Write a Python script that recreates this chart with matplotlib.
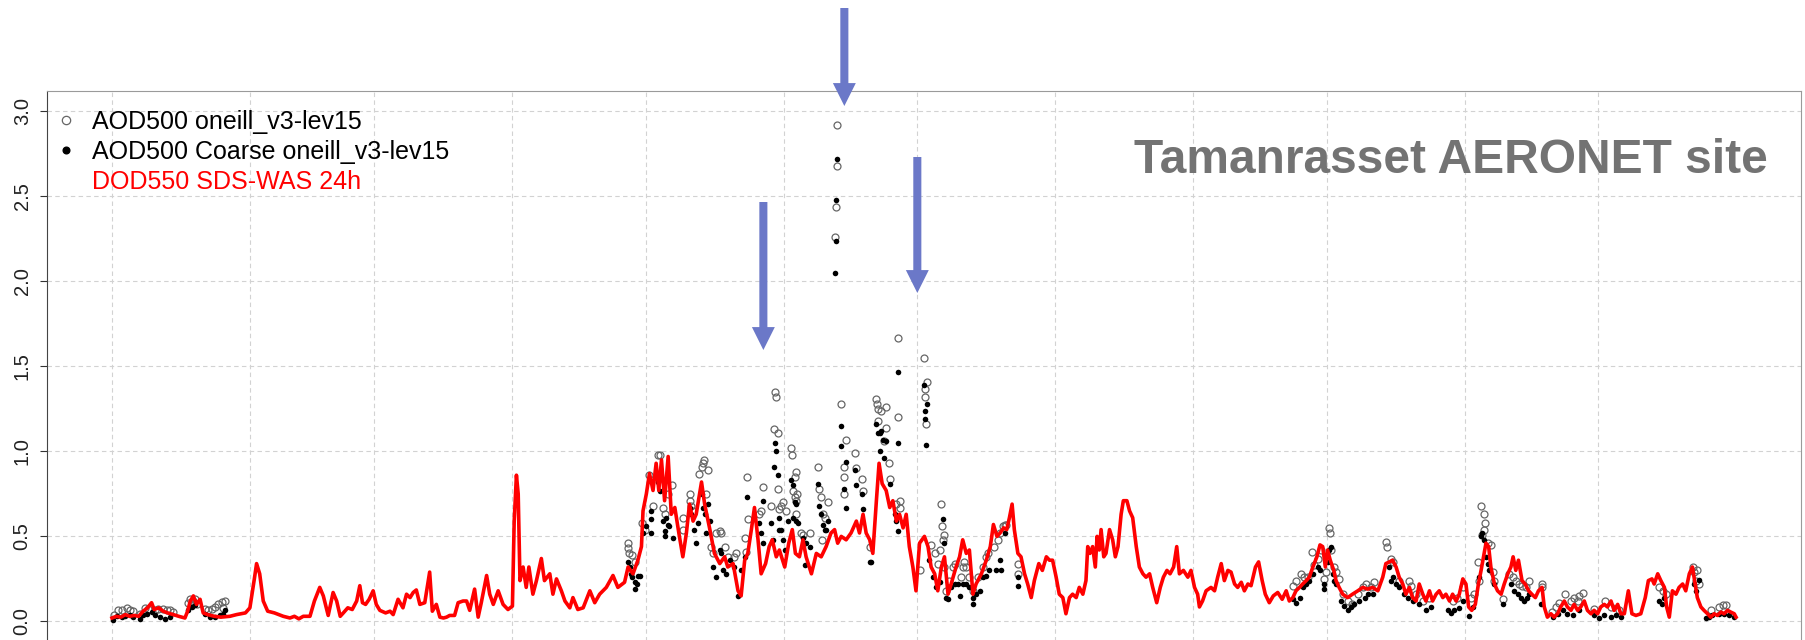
import numpy as np
import matplotlib
matplotlib.use("Agg")
import matplotlib.pyplot as plt
from matplotlib.lines import Line2D

# day of year (0 = 1 Jan) and optical depth
dod = [
    (0, 0.02), (1, 0.03), (2, 0.025), (3, 0.04), (4, 0.03), (5, 0.035), (6, 0.03), (7, 0.06),
    (8, 0.08), (8.9, 0.11), (9.5, 0.07), (10.5, 0.08), (11.5, 0.06), (12.5, 0.05), (13.8, 0.04),
    (15, 0.03), (16.4, 0.02), (17, 0.06), (17.6, 0.12), (18.3, 0.15), (19, 0.10), (19.8, 0.13),
    (20.5, 0.05), (21.5, 0.04), (23, 0.03), (24.5, 0.025), (26.5, 0.03), (28, 0.04), (30, 0.05),
    (31, 0.08), (32, 0.25), (32.5, 0.34), (33.2, 0.28), (34, 0.12), (35, 0.06), (36.5, 0.05),
    (38.5, 0.03), (40, 0.02), (41, 0.03), (42, 0.015), (43, 0.03), (44.5, 0.03), (45.5, 0.12),
    (46.7, 0.20), (47.5, 0.15), (48.6, 0.035), (49.7, 0.17), (50.5, 0.12), (51.3, 0.03), (52, 0.05),
    (53, 0.08), (54, 0.07), (55, 0.12), (55.7, 0.21), (56.3, 0.11), (57, 0.10), (57.8, 0.13),
    (58.7, 0.18), (59.4, 0.10),
    (60.2, 0.065), (61.5, 0.05), (62.5, 0.06), (63.2, 0.04), (64.3, 0.13), (65.4, 0.08), (66.2, 0.16),
    (67.0, 0.14), (67.7, 0.17), (68.4, 0.185), (69.2, 0.10), (70.3, 0.11), (71.4, 0.29), (72.0, 0.06),
    (72.9, 0.10), (73.7, 0.025), (74.5, 0.02), (75.2, 0.025), (75.9, 0.035), (77.0, 0.035), (77.8, 0.11),
    (78.9, 0.12), (79.7, 0.12), (80.4, 0.065), (81.5, 0.19), (82.3, 0.025), (83.0, 0.11), (84.2, 0.27),
    (84.9, 0.16), (85.7, 0.10), (86.8, 0.18), (87.9, 0.10), (89.0, 0.07), (90.0, 0.09), (90.4, 0.59),
    (90.9, 0.86), (91.3, 0.75), (91.7, 0.24), (92.4, 0.32), (93.1, 0.20), (93.7, 0.32), (94.6, 0.16),
    (95.4, 0.24), (96.5, 0.37), (97.2, 0.24), (98.4, 0.28), (99.1, 0.16), (99.9, 0.25), (101.0, 0.18),
    (101.8, 0.12), (102.9, 0.08), (103.6, 0.14), (104.7, 0.07), (105.9, 0.08), (107.4, 0.18),
    (108.5, 0.11), (109.6, 0.16), (111.1, 0.20), (112.6, 0.27), (113.7, 0.20), (115.2, 0.23),
    (116.0, 0.32), (117.1, 0.28), (118.2, 0.36), (119.0, 0.44),
    (119.35, 0.65), (120.1, 0.75), (120.8, 0.87), (121.6, 0.77), (122.3, 0.93), (122.9, 0.77),
    (123.5, 0.95), (124.2, 0.71), (125.0, 0.97), (125.7, 0.63), (126.5, 0.67), (127.4, 0.52),
    (128.3, 0.38), (129.1, 0.52), (129.8, 0.69), (130.6, 0.59), (131.3, 0.63), (132.5, 0.82),
    (133.2, 0.69), (134.3, 0.55), (135.4, 0.40), (136.6, 0.34), (137.7, 0.38), (138.4, 0.32),
    (139.6, 0.34), (140.7, 0.18), (141.4, 0.15), (142.2, 0.36), (142.9, 0.40), (143.7, 0.54),
    (144.4, 0.67), (145.2, 0.48), (145.9, 0.28), (146.9, 0.34), (147.7, 0.44), (148.4, 0.48),
    (149.3, 0.38), (150.0, 0.42), (151.2, 0.32), (152.1, 0.46), (152.9, 0.54), (153.6, 0.40),
    (154.5, 0.38), (155.3, 0.48), (156.0, 0.38), (157.2, 0.28), (158.3, 0.40), (159.4, 0.38),
    (160.5, 0.44), (161.6, 0.52), (162.4, 0.54), (163.1, 0.46), (163.9, 0.50), (165.0, 0.48),
    (166.1, 0.52), (167.3, 0.59), (168.0, 0.52), (168.8, 0.63), (169.5, 0.52), (170.3, 0.48),
    (171.0, 0.40), (171.8, 0.71), (172.4, 0.93), (173.1, 0.81), (174.0, 0.77), (174.8, 0.67),
    (175.5, 0.71), (176.3, 0.59), (177.0, 0.63), (177.8, 0.55), (178.5, 0.63), (179.2, 0.44),
    (180.0, 0.32), (180.7, 0.18),
    (181.5, 0.46), (182.6, 0.50), (183.4, 0.44), (184.1, 0.32), (184.9, 0.28), (185.6, 0.18),
    (186.4, 0.32), (187.1, 0.38), (187.9, 0.16), (188.6, 0.22), (189.7, 0.32), (190.5, 0.38),
    (191.2, 0.48), (192.0, 0.40), (192.7, 0.42), (193.5, 0.16), (194.2, 0.22), (195.4, 0.28),
    (196.5, 0.36), (197.4, 0.44), (198.1, 0.57), (198.9, 0.50), (199.6, 0.52), (200.4, 0.55),
    (201.1, 0.54), (201.7, 0.61), (202.3, 0.69), (202.8, 0.54), (203.6, 0.40), (204.3, 0.38),
    (205.1, 0.28), (205.8, 0.22), (206.6, 0.14), (207.3, 0.24), (208.3, 0.34), (209.1, 0.30),
    (210.0, 0.38), (210.7, 0.36), (211.4, 0.36), (212.2, 0.26), (212.9, 0.16), (213.7, 0.14),
    (214.4, 0.045), (215.2, 0.14), (215.9, 0.16), (216.7, 0.14), (217.4, 0.20), (218.2, 0.16),
    (218.9, 0.24), (219.3, 0.44), (219.8, 0.40), (220.4, 0.44), (221.0, 0.32), (221.4, 0.50),
    (221.9, 0.42), (222.3, 0.54), (222.9, 0.38), (223.4, 0.40), (224.2, 0.54), (224.9, 0.48),
    (225.5, 0.38), (226.1, 0.44), (226.8, 0.63), (227.3, 0.71), (228.1, 0.71), (228.7, 0.65),
    (229.4, 0.61), (230.2, 0.44), (230.9, 0.32), (231.7, 0.28), (232.4, 0.26), (233.2, 0.28),
    (233.9, 0.20), (234.8, 0.11), (235.6, 0.20), (236.3, 0.26), (237.1, 0.30), (237.8, 0.28),
    (238.6, 0.32), (239.3, 0.44), (239.9, 0.28), (240.8, 0.30), (241.8, 0.26), (242.5, 0.30),
    (243.3, 0.20), (244.0, 0.16),
    (244.4, 0.085), (245.1, 0.12), (245.9, 0.18), (247.0, 0.20), (247.8, 0.18), (248.5, 0.26),
    (249.3, 0.34), (250.0, 0.24), (250.8, 0.30), (251.5, 0.29), (252.3, 0.22), (253.0, 0.20),
    (253.8, 0.23), (254.5, 0.18), (255.3, 0.22), (256.0, 0.21), (257.0, 0.32), (257.7, 0.35),
    (258.5, 0.24), (259.2, 0.16), (260.1, 0.11), (261.0, 0.15), (262.0, 0.17), (263.0, 0.13),
    (263.9, 0.18), (264.6, 0.12), (265.4, 0.14), (266.1, 0.18), (266.9, 0.20), (267.6, 0.22),
    (268.4, 0.24), (269.1, 0.26), (269.9, 0.32), (270.8, 0.38), (271.5, 0.45), (272.1, 0.44),
    (272.7, 0.32), (273.2, 0.42), (273.8, 0.36), (274.6, 0.30), (275.1, 0.24), (275.8, 0.20),
    (276.6, 0.16), (277.7, 0.14), (278.8, 0.16), (280.0, 0.18), (281.1, 0.20), (282.2, 0.19),
    (283.3, 0.20), (284.5, 0.18), (285.6, 0.26), (286.3, 0.34), (287.1, 0.35), (287.8, 0.36),
    (288.6, 0.32), (289.3, 0.26), (290.1, 0.22), (290.8, 0.16), (291.6, 0.20), (292.3, 0.14),
    (293.1, 0.12), (293.8, 0.22), (294.6, 0.16), (295.3, 0.12), (296.1, 0.18), (296.8, 0.12),
    (297.6, 0.16), (298.3, 0.18), (299.1, 0.14), (299.8, 0.16), (300.6, 0.12), (301.3, 0.16),
    (302.1, 0.12), (302.8, 0.16), (303.6, 0.25), (304.3, 0.22), (304.9, 0.085), (305.6, 0.065),
    (306.4, 0.10), (307.1, 0.22),
    (307.7, 0.30), (308.8, 0.46), (309.4, 0.44), (309.9, 0.32), (310.7, 0.22), (311.4, 0.18),
    (312.2, 0.16), (312.9, 0.22), (313.7, 0.28), (314.4, 0.32), (314.9, 0.38), (315.5, 0.30),
    (316.1, 0.36), (316.9, 0.24), (317.6, 0.22), (318.4, 0.18), (319.1, 0.16), (319.9, 0.14),
    (320.6, 0.18), (321.4, 0.20), (321.9, 0.085), (322.6, 0.025), (323.4, 0.045), (324.1, 0.025),
    (324.9, 0.045), (325.6, 0.085), (326.4, 0.12), (327.1, 0.085), (327.9, 0.065), (328.6, 0.10),
    (329.4, 0.065), (330.1, 0.085), (330.9, 0.12), (331.6, 0.065), (332.4, 0.045), (333.1, 0.065),
    (333.9, 0.045), (334.6, 0.085), (335.4, 0.10), (336.1, 0.085), (336.9, 0.12), (337.6, 0.065),
    (338.4, 0.10), (339.1, 0.045), (339.9, 0.045), (340.8, 0.18), (341.6, 0.045), (342.5, 0.035),
    (343.6, 0.045), (344.6, 0.14), (345.3, 0.24), (346.1, 0.25), (346.6, 0.22), (347.4, 0.28),
    (348.1, 0.24), (348.9, 0.20), (349.4, 0.085), (350.0, 0.025), (350.7, 0.18), (351.5, 0.16),
    (352.2, 0.20), (353.0, 0.22), (353.7, 0.18), (354.5, 0.28), (355.2, 0.32), (355.8, 0.22),
    (356.3, 0.14), (357.1, 0.085), (357.8, 0.065), (358.6, 0.045), (359.3, 0.025), (360.1, 0.045),
    (360.8, 0.035), (361.6, 0.055), (362.3, 0.045), (363.1, 0.065), (363.8, 0.055), (364.6, 0.045),
    (365.0, 0.025),
]

aod_total = [
    (0.45, 0.04), (1.42, 0.07), (2.17, 0.07), (3.3, 0.08), (4.04, 0.07), (4.64, 0.06),
    (6.29, 0.045), (7.41, 0.08), (8.16, 0.075), (9.66, 0.065), (10.41, 0.075), (11.53, 0.075),
    (12.28, 0.065), (13.03, 0.065), (13.63, 0.055), (17.14, 0.11), (17.52, 0.13), (18.27, 0.12),
    (18.64, 0.13), (19.02, 0.105), (20.9, 0.075), (21.64, 0.065), (22.39, 0.075), (23.14, 0.085),
    (23.89, 0.10), (24.64, 0.115), (25.38, 0.12), (25.01, 0.08),
    (116.0, 0.46), (116.0, 0.43), (116.2, 0.40), (116.9, 0.39), (117.5, 0.35),
    (119.2, 0.58), (119.7, 0.54), (120.8, 0.86), (121.6, 0.68), (122.7, 0.98), (123.1, 0.98),
    (123.8, 0.67), (124.2, 0.63), (125.0, 0.75), (125.9, 0.80), (128.3, 0.61), (128.3, 0.54),
    (129.8, 0.75), (130.0, 0.71), (130.2, 0.68), (130.6, 0.65), (131.9, 0.87), (132.5, 0.91),
    (132.8, 0.93), (133.0, 0.95), (133.9, 0.89), (133.6, 0.75), (134.7, 0.44), (135.1, 0.40),
    (135.8, 0.52), (136.6, 0.53), (136.9, 0.52), (137.7, 0.44), (138.4, 0.38), (139.9, 0.38),
    (140.3, 0.40), (142.2, 0.49), (142.4, 0.41), (142.9, 0.60), (142.8, 0.85), (145.5, 0.63),
    (145.9, 0.65), (146.3, 0.79), (148.2, 0.68), (148.9, 1.13), (149.1, 1.35), (149.3, 1.32),
    (149.7, 1.11), (149.7, 0.78), (150.0, 0.66), (150.4, 0.68), (150.8, 0.70), (151.5, 0.65),
    (152.7, 1.02), (152.9, 0.98), (153.0, 0.77), (153.4, 0.85), (153.8, 0.88), (153.4, 0.73),
    (153.8, 0.71), (154.0, 0.75), (153.8, 0.63), (154.9, 0.52), (155.3, 0.51), (156.8, 0.52),
    (158.7, 0.91), (159.0, 0.78), (159.4, 0.73), (159.8, 0.63), (159.6, 0.48), (160.2, 0.61),
    (160.9, 0.70), (162.9, 2.92), (162.9, 2.68), (162.8, 2.44), (162.6, 2.26),
    (163.9, 1.28), (165.0, 1.07), (164.6, 0.91), (164.6, 0.85), (164.6, 0.75),
    (166.9, 0.99), (167.3, 0.90), (168.6, 0.84), (168.8, 0.77), (170.3, 0.44), (171.8, 1.31),
    (171.9, 1.28), (172.1, 1.25), (172.9, 1.24), (174.0, 1.26), (172.1, 1.18), (173.6, 1.06),
    (174.0, 1.14), (174.6, 0.93), (174.8, 0.84), (176.6, 1.67), (176.6, 1.20), (176.3, 0.69),
    (177.0, 0.71), (177.0, 0.67),
    (182.6, 1.55), (183.1, 1.41), (182.8, 1.37), (182.8, 1.32), (183.0, 1.16), (181.5, 0.30),
    (184.1, 0.45), (184.9, 0.40), (185.6, 0.34), (186.0, 0.42), (186.4, 0.69), (186.6, 0.56),
    (186.9, 0.51), (186.7, 0.48), (187.1, 0.32), (187.5, 0.18), (188.2, 0.24), (189.0, 0.32),
    (189.4, 0.34), (190.9, 0.26), (191.2, 0.32), (191.6, 0.35), (192.0, 0.32), (192.7, 0.26),
    (193.5, 0.18), (194.6, 0.26), (195.7, 0.32), (196.5, 0.38), (196.8, 0.40), (198.3, 0.44),
    (199.1, 0.48), (199.5, 0.52), (200.2, 0.56), (200.6, 0.57), (201.0, 0.57), (203.6, 0.34),
    (203.6, 0.28),
    (265.4, 0.21), (266.1, 0.24), (267.2, 0.28), (268.0, 0.26), (268.7, 0.26), (269.7, 0.41),
    (270.2, 0.33), (271.0, 0.37), (271.7, 0.42), (272.5, 0.25), (272.9, 0.29), (273.6, 0.55),
    (273.8, 0.52), (274.0, 0.42), (274.7, 0.32), (275.1, 0.29), (275.8, 0.25), (276.6, 0.16),
    (277.7, 0.12), (278.8, 0.10), (280.0, 0.16), (281.1, 0.20), (281.8, 0.22), (283.0, 0.20),
    (283.7, 0.23), (286.3, 0.47), (286.5, 0.44), (287.5, 0.37), (287.8, 0.35), (289.3, 0.24),
    (291.4, 0.24), (291.9, 0.21), (293.1, 0.16), (294.6, 0.12), (296.1, 0.14), (301.3, 0.12),
    (302.4, 0.14), (303.6, 0.20), (305.4, 0.14), (306.2, 0.16), (307.1, 0.35), (307.3, 0.24),
    (307.7, 0.68), (308.4, 0.63), (308.6, 0.58), (308.4, 0.54), (308.0, 0.51), (309.2, 0.46),
    (309.9, 0.45), (310.3, 0.29), (310.7, 0.24),
    (312.7, 0.13), (314.0, 0.28), (314.8, 0.26), (315.5, 0.24), (316.3, 0.22), (317.0, 0.21),
    (317.8, 0.20), (318.5, 0.24), (321.4, 0.22), (321.5, 0.20), (323.6, 0.055), (324.5, 0.085),
    (325.3, 0.11), (326.5, 0.16), (327.9, 0.12), (328.6, 0.14), (329.4, 0.12), (329.8, 0.15),
    (330.5, 0.17), (333.1, 0.075), (335.6, 0.12), (336.9, 0.085), (338.7, 0.065), (347.7, 0.20),
    (348.5, 0.18), (349.2, 0.16), (355.4, 0.32), (356.3, 0.30), (355.6, 0.29), (356.0, 0.24),
    (356.6, 0.22), (359.3, 0.065), (361.2, 0.085), (362.0, 0.095), (362.7, 0.095),
]

aod_coarse = [
    (0.30, 0.01), (1.05, 0.03), (2.17, 0.025), (2.92, 0.03), (4.04, 0.035), (4.79, 0.025),
    (6.29, 0.015), (7.04, 0.035), (7.79, 0.045), (8.91, 0.055), (9.66, 0.035), (10.78, 0.025),
    (11.9, 0.015), (13.03, 0.025), (17.14, 0.065), (17.89, 0.085), (18.64, 0.095),
    (20.9, 0.045), (22.02, 0.025), (23.14, 0.025), (24.26, 0.035), (25.01, 0.045), (25.38, 0.065),
    (116.0, 0.35), (116.4, 0.32), (116.7, 0.28), (116.9, 0.26), (117.5, 0.23), (117.9, 0.22),
    (117.5, 0.19), (118.2, 0.27),
    (118.6, 0.27), (119.3, 0.52), (120.1, 0.56), (121.2, 0.65), (121.2, 0.60), (121.2, 0.52),
    (122.7, 0.82), (123.1, 0.77), (123.8, 0.59), (124.2, 0.53), (124.2, 0.50), (124.6, 0.61),
    (125.0, 0.57), (125.3, 0.56), (126.1, 0.49), (129.8, 0.67), (130.2, 0.63), (130.9, 0.54),
    (131.3, 0.46), (131.7, 0.58), (132.5, 0.75), (132.8, 0.67), (133.2, 0.63), (133.6, 0.52),
    (133.9, 0.69), (134.3, 0.59), (135.1, 0.32), (135.8, 0.26), (136.6, 0.42), (136.9, 0.40),
    (137.3, 0.30), (138.1, 0.28), (138.8, 0.36), (139.9, 0.32), (140.7, 0.15), (141.4, 0.30),
    (142.2, 0.38), (142.8, 0.73), (145.5, 0.58), (145.9, 0.52), (146.3, 0.71), (146.3, 0.46),
    (148.2, 0.58), (148.5, 0.48), (148.9, 0.91), (149.1, 1.05), (149.3, 1.00), (149.7, 0.86),
    (149.9, 0.61), (150.0, 0.54), (150.4, 0.54), (150.8, 0.48), (151.2, 0.42), (151.9, 0.59),
    (152.7, 0.83), (153.0, 0.80), (153.4, 0.70), (153.8, 0.69), (153.0, 0.61), (153.8, 0.59),
    (154.2, 0.58), (155.3, 0.49), (155.7, 0.33), (156.0, 0.46), (156.8, 0.44), (158.7, 0.81),
    (159.0, 0.68), (159.4, 0.63), (159.8, 0.57), (160.2, 0.54), (160.5, 0.54), (160.9, 0.59),
    (162.9, 2.72), (162.8, 2.48), (162.7, 2.24), (162.6, 2.05),
    (163.9, 1.15), (163.9, 1.03), (165.0, 0.94), (164.6, 0.78), (164.9, 0.67), (166.9, 0.89),
    (167.3, 0.80), (168.6, 0.75), (168.8, 0.66), (170.3, 0.35), (170.6, 0.35), (171.8, 1.16),
    (172.1, 1.11), (172.5, 1.11), (173.3, 1.07), (172.9, 1.12), (173.6, 0.96), (172.5, 1.00),
    (174.0, 1.06), (174.8, 0.81), (176.6, 1.47), (176.6, 1.05), (175.9, 0.63), (176.3, 0.59),
    (176.6, 0.53),
    (182.6, 1.39), (183.1, 1.28), (182.8, 1.24), (182.8, 1.19), (183.0, 1.04), (183.7, 0.36),
    (184.5, 0.26), (185.2, 0.20), (186.0, 0.23), (186.7, 0.60), (186.9, 0.46), (187.5, 0.14),
    (187.9, 0.13), (188.6, 0.20), (189.4, 0.22), (190.1, 0.22), (190.5, 0.15), (191.2, 0.22),
    (192.0, 0.22), (192.7, 0.20), (193.5, 0.14), (193.5, 0.10), (194.2, 0.16), (195.0, 0.18),
    (195.7, 0.26), (196.5, 0.27), (197.2, 0.30), (198.7, 0.30), (199.8, 0.30), (199.5, 0.36),
    (200.6, 0.52), (203.6, 0.26), (203.7, 0.21),
    (265.4, 0.13), (266.1, 0.11), (266.9, 0.14), (267.6, 0.20), (268.4, 0.22), (269.1, 0.24),
    (269.9, 0.28), (271.0, 0.32), (271.5, 0.30), (272.5, 0.22), (272.5, 0.19), (273.2, 0.35),
    (273.6, 0.42), (274.0, 0.44), (274.4, 0.28), (274.7, 0.24), (275.1, 0.22), (276.2, 0.12),
    (277.0, 0.09), (277.7, 0.065), (278.5, 0.085), (279.2, 0.10), (280.3, 0.12), (281.5, 0.14),
    (282.2, 0.16), (283.3, 0.16), (287.1, 0.32), (287.5, 0.24), (287.8, 0.26), (288.6, 0.22),
    (289.3, 0.20), (290.4, 0.16), (291.2, 0.14), (292.3, 0.12), (293.8, 0.10), (295.3, 0.065),
    (296.4, 0.085), (300.2, 0.07), (300.9, 0.05), (301.7, 0.07), (302.8, 0.08), (303.6, 0.12),
    (305.0, 0.03), (305.8, 0.085), (307.3, 0.26), (307.7, 0.50), (308.0, 0.52), (308.4, 0.48),
    (308.8, 0.38), (309.2, 0.34), (309.5, 0.30), (310.7, 0.22),
    (312.7, 0.10), (314.4, 0.22), (315.2, 0.18), (315.9, 0.16), (316.7, 0.14), (317.4, 0.12),
    (318.1, 0.14), (318.5, 0.16), (321.2, 0.10), (323.8, 0.025), (324.9, 0.045), (326.0, 0.065),
    (327.1, 0.045), (328.3, 0.035), (329.8, 0.065), (333.1, 0.035), (334.3, 0.02), (335.4, 0.035),
    (336.9, 0.025), (338.0, 0.035), (339.1, 0.025), (347.7, 0.12), (348.3, 0.10), (348.9, 0.14),
    (355.6, 0.22), (356.0, 0.18), (356.6, 0.245), (358.2, 0.02), (359.0, 0.025), (359.7, 0.035),
    (361.2, 0.045), (362.3, 0.045), (363.5, 0.035), (364.6, 0.025),
]

month_days = [31, 28, 31, 30, 31, 30, 31, 31, 30, 31, 30, 31]
y_ticks = [0.0, 0.5, 1.0, 1.5, 2.0, 2.5, 3.0]
legend_labels = ["AOD500 oneill_v3-lev15", "AOD500 Coarse oneill_v3-lev15", "DOD550 SDS-WAS 24h"]
site_name = "Tamanrasset AERONET site"
# days of the three dust events flagged with arrows
event_days = [146.4, 164.6, 181.0]

plt.rcParams['font.family'] = ['Liberation Sans', 'DejaVu Sans']

W, H = 1806, 640
fig = plt.figure(figsize=(W / 100, H / 100), dpi=100)
ax = fig.add_axes([47 / W, -1.8 / H, 1754 / W, 550.8 / H])

tot = np.array(aod_total).T
crs = np.array(aod_coarse).T
red = np.array(dod).T

ax.plot(tot[0], tot[1], linestyle='none', marker='o', ms=5.0, mfc='none',
        mec='#666666', mew=0.9, zorder=3)
ax.plot(crs[0], crs[1], linestyle='none', marker='o', ms=4.0, color='black',
        mew=0, zorder=4)
ax.plot(red[0], red[1], color='#ff0000', lw=2.6, solid_joinstyle='round', zorder=5)

ax.set_xlim(-14.6, 379.6)
ax.set_ylim(-0.12, 3.12)
month_start = np.cumsum([0] + month_days[:-1])
ax.set_xticks(month_start)
ax.set_yticks(y_ticks)
ax.set_yticklabels([f"{v:.1f}" for v in y_ticks], rotation=90, va='center')
ax.tick_params(axis='x', length=0, labelbottom=False)
ax.tick_params(axis='y', length=5, width=0.8, pad=6, labelsize=14.5,
               labelcolor='#222222', color='#333333')
ax.grid(True, color='#d2d2d2', linestyle=(0, (4, 3)), linewidth=0.8)
ax.set_axisbelow(True)
ax.spines['left'].set_color('#444444')
for s in ['top', 'right', 'bottom']:
    ax.spines[s].set_color('#9a9a9a')

handles = [
    Line2D([], [], linestyle='none', marker='o', ms=6.0, mfc='none', mec='#666666', mew=0.9),
    Line2D([], [], linestyle='none', marker='o', ms=4.8, color='black'),
    Line2D([], [], linestyle='none'),
]
leg = ax.legend(handles, legend_labels, loc='upper left', bbox_to_anchor=(6.5 / 1754, 1 - 19 / 550.8),
                frameon=False, fontsize=18, handlelength=1.0, handletextpad=0.54,
                labelspacing=0.24, borderpad=0, borderaxespad=0)
for t, c in zip(leg.get_texts(), ['black', 'black', '#ff0000']):
    t.set_color(c)

ax.text(0.981, 0.851, site_name, transform=ax.transAxes, ha='right', va='baseline',
        fontsize=34.5, fontweight='bold', color='#737373')

tips = [290, 534, 347]
tails = [438, 632, 483]
for d, tip, tail in zip(event_days, tips, tails):
    ax.annotate('', xy=(d, tip), xytext=(d, tail), xycoords=('data', 'figure pixels'),
                textcoords=('data', 'figure pixels'), annotation_clip=False,
                arrowprops=dict(width=5.8, headwidth=16.5, headlength=16.5, shrink=0,
                                facecolor='#6b78c8', edgecolor='none'), zorder=10)

fig.savefig("out.png", dpi=100)
